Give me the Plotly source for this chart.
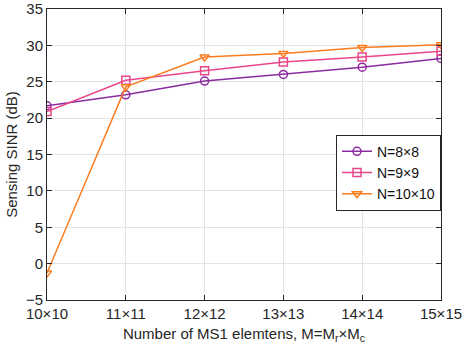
import plotly.graph_objects as go

categories = ["10×10", "11×11", "12×12", "13×13", "14×14", "15×15"]
n8 = [21.7, 23.2, 25.1, 26.0, 27.0, 28.2]
n9 = [20.9, 25.2, 26.5, 27.7, 28.4, 29.2]
n10 = [-1.3, 24.3, 28.4, 28.9, 29.7, 30.1]
y_ticks = [-5, 0, 5, 10, 15, 20, 25, 30, 35]

xs = list(range(len(categories)))
font = "Liberation Sans, Arial, Helvetica, sans-serif"

fig = go.Figure()
series = [
    ("N=8×8", n8, "#8B2CA0", "circle-open"),
    ("N=9×9", n9, "#E8468A", "square-open"),
    ("N=10×10", n10, "#F97C1E", "triangle-down-open"),
]
for name, vals, col, sym in series:
    fig.add_trace(go.Scatter(
        x=xs, y=vals, name=name, mode="lines+markers",
        line=dict(color=col, width=1.5),
        marker=dict(symbol=sym, size=8, color=col, line=dict(width=1.5, color=col)),
    ))

axis_common = dict(
    showline=True, linecolor="#262626", linewidth=1, mirror="ticks",
    ticks="inside", ticklen=5, tickcolor="#262626",
    showgrid=True, gridcolor="#E3E3E3", gridwidth=1, zeroline=False,
    tickfont=dict(family=font, size=15, color="#262626"),
    automargin=False,
)
fig.update_xaxes(
    range=[0, 5], tickvals=xs, ticktext=categories,
    title=dict(text="Number of MS1 elemtens, M=M<sub>r</sub>×M<sub>c</sub>",
               font=dict(family=font, size=15, color="#262626"), standoff=7),
    **axis_common,
)
fig.update_yaxes(
    range=[-5, 35], tickvals=y_ticks,
    title=dict(text="Sensing SINR (dB)", font=dict(family=font, size=15, color="#262626"), standoff=4),
    **axis_common,
)
fig.update_layout(
    width=465, height=349,
    margin=dict(l=47, r=24, t=9, b=49),
    paper_bgcolor="white", plot_bgcolor="white",
    legend=dict(
        x=1, y=0.568, xanchor="right", yanchor="top",
        bgcolor="white", bordercolor="#262626", borderwidth=1,
        font=dict(family=font, size=14, color="#111111"),
        tracegroupgap=0, itemwidth=30,
    ),
)
fig.write_html("out.html", config={"displayModeBar": False},
               post_script="document.body.style.margin='0';")
